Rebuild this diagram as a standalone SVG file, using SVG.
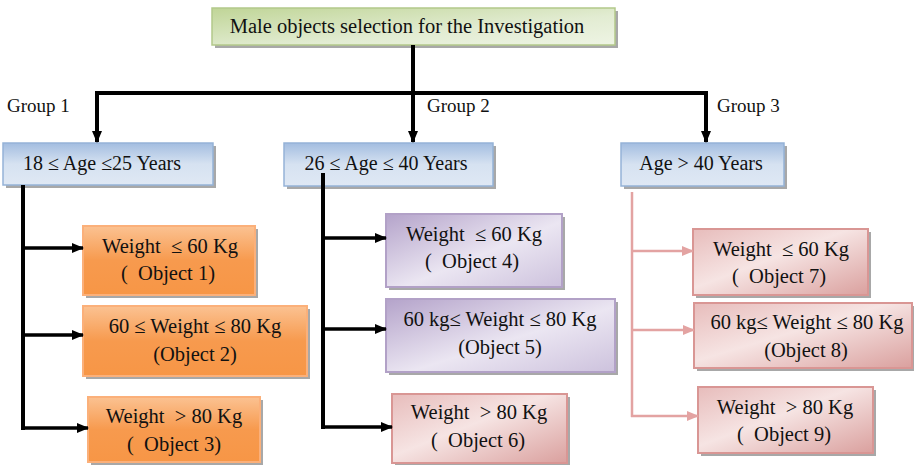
<svg xmlns="http://www.w3.org/2000/svg" width="914" height="465" viewBox="0 0 914 465" xml:space="preserve">
<style>
text{font-family:"Liberation Serif","Times New Roman",serif;fill:#111;white-space:pre;}
.t{font-size:20px;text-anchor:middle;}
.o{font-size:20.5px;}
.g{font-size:19px;}
.sh{fill:#6e6e6e;opacity:.6;}
.gr{fill:url(#gGreen);stroke:#b3c98a;stroke-width:1.5;}
.bl{fill:url(#gBlue);stroke:#95b3d7;stroke-width:1.5;}
.or{fill:url(#gOrange);stroke:#fbb07a;stroke-width:2;}
.pu{fill:url(#gPurple);stroke:#b2a1c7;stroke-width:2;}
.pk{fill:url(#gPink);stroke:#d99694;stroke-width:2;}
.k{fill:none;stroke:#000;stroke-width:4;}
.kb{fill:none;stroke:#000;stroke-width:3.5;}
.pl{fill:none;stroke:#e3a3a2;stroke-width:2.5;}
</style>
<defs>
<linearGradient id="gGreen" x1="0" y1="0" x2="1" y2="1">
<stop offset="0" stop-color="#c0d597"/><stop offset="0.6" stop-color="#e2ecd2"/><stop offset="1" stop-color="#eef4e4"/>
</linearGradient>
<linearGradient id="gBlue" x1="0" y1="0" x2="0" y2="1">
<stop offset="0" stop-color="#a3bde0"/><stop offset="0.5" stop-color="#d6e2f1"/><stop offset="1" stop-color="#dfe8f4"/>
</linearGradient>
<linearGradient id="gOrange" x1="0" y1="0" x2="0" y2="1">
<stop offset="0" stop-color="#fbc292"/><stop offset="0.5" stop-color="#f79a4e"/><stop offset="1" stop-color="#f79646"/>
</linearGradient>
<linearGradient id="gPurple" x1="0" y1="0" x2="1" y2="1">
<stop offset="0" stop-color="#b4a3ca"/><stop offset="0.55" stop-color="#ebe6f2"/><stop offset="1" stop-color="#cdc2dd"/>
</linearGradient>
<linearGradient id="gPink" x1="0" y1="0" x2="1" y2="1">
<stop offset="0" stop-color="#e7bcbb"/><stop offset="0.45" stop-color="#f6e4e3"/><stop offset="1" stop-color="#daa09e"/>
</linearGradient>
<marker id="ak" viewBox="0 0 12 10" refX="11" refY="5" markerWidth="12" markerHeight="10" markerUnits="userSpaceOnUse" orient="auto">
<path d="M0,0 L12,5 L0,10 Z" fill="#000"/>
</marker>
<marker id="ap" viewBox="0 0 12 10" refX="11" refY="5" markerWidth="12" markerHeight="10" markerUnits="userSpaceOnUse" orient="auto">
<path d="M0,0 L12,5 L0,10 Z" fill="#e3a3a2"/>
</marker>
</defs>
<rect width="914" height="465" fill="#fff"/>

<g id="root">
<rect class="sh" x="215" y="11" width="403" height="37"/>
<rect class="gr" x="212" y="8" width="403" height="37"/>
<text class="t" x="407" y="33" style="font-size:20.5px">Male objects selection for the Investigation</text>
</g>

<g id="group1-label"><text class="g" x="7" y="112">Group 1</text></g>
<g id="group2-label"><text class="g" x="427" y="112">Group 2</text></g>
<g id="group3-label"><text class="g" x="717" y="112">Group 3</text></g>

<g id="age1">
<rect class="sh" x="6" y="146" width="210" height="42"/>
<rect class="bl" x="3" y="143" width="210" height="42"/>
<text class="t" x="102" y="170">18 ≤ Age ≤25 Years</text>
</g>
<g id="age2">
<rect class="sh" x="287" y="146" width="209" height="43"/>
<rect class="bl" x="284" y="143" width="209" height="43"/>
<text class="t" x="386" y="170">26 ≤ Age ≤ 40 Years</text>
</g>
<g id="age3">
<rect class="sh" x="624" y="146" width="163" height="43"/>
<rect class="bl" x="621" y="143" width="163" height="43"/>
<text class="t" x="701" y="170">Age &gt; 40 Years</text>
</g>

<g id="obj1">
<rect class="sh" x="86" y="229" width="172" height="69"/>
<rect class="or" x="83" y="226" width="172" height="69"/>
<text class="t o" x="170" y="253">Weight  ≤ 60 Kg</text>
<text class="t o" x="168" y="280">(  Object 1)</text>
</g>
<g id="obj2">
<rect class="sh" x="86" y="309" width="224" height="70"/>
<rect class="or" x="83" y="306" width="224" height="70"/>
<text class="t o" x="195" y="333">60 ≤ Weight ≤ 80 Kg</text>
<text class="t o" x="195" y="361">(Object 2)</text>
</g>
<g id="obj3">
<rect class="sh" x="91" y="400" width="172" height="65"/>
<rect class="or" x="88" y="397" width="172" height="65"/>
<text class="t o" x="174" y="423">Weight  &gt; 80 Kg</text>
<text class="t o" x="174" y="451">(  Object 3)</text>
</g>

<g id="obj4">
<rect class="sh" x="389" y="217" width="176" height="73"/>
<rect class="pu" x="386" y="214" width="176" height="73"/>
<text class="t o" x="474" y="241">Weight  ≤ 60 Kg</text>
<text class="t o" x="472" y="268">(  Object 4)</text>
</g>
<g id="obj5">
<rect class="sh" x="389" y="302" width="229" height="73"/>
<rect class="pu" x="386" y="299" width="229" height="73"/>
<text class="t o" x="500" y="326">60 kg≤ Weight ≤ 80 Kg</text>
<text class="t o" x="500" y="354">(Object 5)</text>
</g>
<g id="obj6">
<rect class="sh" x="395" y="397" width="175" height="68"/>
<rect class="pk" x="392" y="394" width="175" height="69"/>
<text class="t o" x="479" y="419">Weight  &gt; 80 Kg</text>
<text class="t o" x="478" y="447">(  Object 6)</text>
</g>

<g id="obj7">
<rect class="sh" x="696" y="232" width="175" height="66"/>
<rect class="pk" x="693" y="229" width="175" height="66"/>
<text class="t o" x="781" y="256">Weight  ≤ 60 Kg</text>
<text class="t o" x="779" y="283">(  Object 7)</text>
</g>
<g id="obj8">
<rect class="sh" x="697" y="306" width="218" height="65"/>
<rect class="pk" x="694" y="303" width="218" height="65"/>
<text class="t o" x="807" y="329">60 kg≤ Weight ≤ 80 Kg</text>
<text class="t o" x="806" y="357">(Object 8)</text>
</g>
<g id="obj9">
<rect class="sh" x="701" y="390" width="175" height="66"/>
<rect class="pk" x="698" y="387" width="175" height="66"/>
<text class="t o" x="785" y="414">Weight  &gt; 80 Kg</text>
<text class="t o" x="784" y="441">(  Object 9)</text>
</g>

<g id="connectors">
<path class="k" d="M413,45 V93 M95,93 H708"/>
<path class="k" d="M97,93 V142" marker-end="url(#ak)"/>
<path class="k" d="M413,93 V142" marker-end="url(#ak)"/>
<path class="k" d="M706,93 V142" marker-end="url(#ak)"/>
<path class="k" d="M23,185 V430"/>
<path class="kb" d="M23,248 H83" marker-end="url(#ak)"/>
<path class="kb" d="M23,335 H83" marker-end="url(#ak)"/>
<path class="kb" d="M21,428 H88" marker-end="url(#ak)"/>
<path class="k" d="M323,173 V429"/>
<path class="kb" d="M323,238 H386" marker-end="url(#ak)"/>
<path class="kb" d="M323,329 H386" marker-end="url(#ak)"/>
<path class="kb" d="M321,427 H392" marker-end="url(#ak)"/>
<path class="pl" d="M632,192 V417"/>
<path class="pl" d="M632,251 H693" marker-end="url(#ap)"/>
<path class="pl" d="M632,330 H694" marker-end="url(#ap)"/>
<path class="pl" d="M631,416 H698" marker-end="url(#ap)"/>
</g>
</svg>
